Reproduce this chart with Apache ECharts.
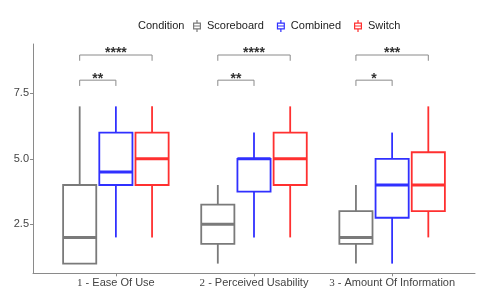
<!DOCTYPE html>
<html><head><meta charset="utf-8">
<script src="https://cdn.jsdelivr.net/npm/echarts@6/dist/echarts.min.js"></script>
<style>html,body{margin:0;padding:0;background:#fff}#c{width:480px;height:297px}</style>
</head><body><div id="c"></div>
<script>
// ---- data ----
const categories = ['1 - Ease Of Use', '2 - Perceived Usability', '3 - Amount Of Information'];
const conditions = ['Scoreboard', 'Combined', 'Switch'];
// [min, Q1, median, Q3, max] per category
const scoreboard = [[1, 1, 2, 4, 7], [1, 1.75, 2.5, 3.25, 4], [1, 1.75, 2, 3, 4]];
const combined   = [[2, 4, 4.5, 6, 7], [2, 3.75, 5, 5, 6], [1, 2.75, 4, 5, 6]];
const switchCond = [[2, 4, 5, 6, 7], [2, 4, 5, 6, 7], [2, 3, 4, 5.25, 7]];
// significance: Scoreboard vs Combined (near), Scoreboard vs Switch (far)
const sigNear = ['**', '**', '*'];
const sigFar  = ['****', '****', '***'];
const sigNearLevel = 8.0;
const sigFarLevel = 8.96;
const yTicks = [2.5, 5.0, 7.5];

// ---- style ----
const FONT = '"Liberation Sans", Arial, sans-serif';
const colors = ['#7a7a7a', '#3030ff', '#ff3030'];
const DODGE = 0.262, BOXW = 0.24, DROP = 0.22;
const ICON = 'path://M3.4,0h1.2v2.5h-1.2z M0,2.5h8v1.2h-8z M0,3.7h1.2v4.6h-1.2z M6.8,3.7h1.2v4.6h-1.2z M1.2,5.4h5.6v1.2h-5.6z M0,8.3h8v1.2h-8z M3.4,9.5h1.2v2.5h-1.2z';

function boxSeries(name, rows, g) {
  return {
    type: 'custom', name: name,
    itemStyle: { color: colors[g] },
    data: rows.map((r, i) => [i + 1].concat(r)),
    encode: { x: 0, y: [1, 2, 3, 4, 5] },
    renderItem: function (params, api) {
      const x = api.value(0) + (g - 1) * DODGE;
      const v = [1, 2, 3, 4, 5].map(k => api.value(k));
      const p = v.map(val => api.coord([x, val]));
      const hw = api.size([BOXW, 0])[0] / 2;
      const cx = p[0][0];
      const c = colors[g];
      return {
        type: 'group',
        children: [
          { type: 'line', shape: { x1: cx, y1: p[3][1], x2: cx, y2: p[4][1] }, style: { stroke: c, lineWidth: 1.8 } },
          { type: 'line', shape: { x1: cx, y1: p[0][1], x2: cx, y2: p[1][1] }, style: { stroke: c, lineWidth: 1.8 } },
          { type: 'rect', shape: { x: cx - hw, y: p[3][1], width: 2 * hw, height: p[1][1] - p[3][1] }, style: { fill: '#fff', stroke: c, lineWidth: 1.8 } },
          { type: 'line', shape: { x1: cx - hw, y1: p[2][1], x2: cx + hw, y2: p[2][1] }, style: { stroke: c, lineWidth: 3 } }
        ]
      };
    }
  };
}

const bracketData = [];
const bracketLabels = [];
categories.forEach((c, i) => {
  bracketData.push([i + 1, sigNearLevel, 0, 1]); bracketLabels.push(sigNear[i]);
  bracketData.push([i + 1, sigFarLevel, 0, 2]); bracketLabels.push(sigFar[i]);
});

const bracketSeries = {
  type: 'custom', name: 'sig', silent: true,
  data: bracketData,
  encode: { x: 0, y: 1 },
  renderItem: function (params, api) {
    const x = api.value(0), lv = api.value(1);
    const xa = x + (api.value(2) - 1) * DODGE, xb = x + (api.value(3) - 1) * DODGE;
    const pa = api.coord([xa, lv]), pb = api.coord([xb, lv]);
    const pd = api.coord([xa, lv - DROP]);
    return {
      type: 'group',
      children: [
        { type: 'polyline', shape: { points: [[pa[0], pd[1]], [pa[0], pa[1]], [pb[0], pb[1]], [pb[0], pd[1]]] },
          style: { stroke: '#8a8a8a', lineWidth: 1, fill: null } },
        { type: 'text', x: (pa[0] + pb[0]) / 2, y: pa[1] - 1.5,
          style: { text: bracketLabels[params.dataIndex], align: 'center', verticalAlign: 'middle',
                   fill: '#333', font: 'bold 14px ' + FONT } }
      ]
    };
  }
};

const chart = echarts.init(document.getElementById('c'), null, { renderer: 'canvas' });
chart.setOption({
  animation: false,
  backgroundColor: '#fff',
  title: { text: 'Condition', left: 138, top: 20, padding: 0,
    textStyle: { fontFamily: FONT, fontSize: 11, fontWeight: 'normal', color: '#222' } },
  legend: {
    left: 193, top: 20, padding: 0, itemWidth: 8, itemHeight: 12, itemGap: 13, selectedMode: false,
    textStyle: { fontFamily: FONT, fontSize: 11, color: '#222', padding: [0, 0, 0, 1] },
    data: conditions.map((n, i) => ({ name: n, icon: ICON, itemStyle: { color: colors[i], borderWidth: 0 } }))
  },
  grid: { left: 33, right: 5, top: 44, bottom: 23.7, containLabel: false, outerBoundsMode: 'none' },
  xAxis: {
    type: 'value', min: 0.4, max: 3.6,
    axisLine: { show: true, lineStyle: { color: '#8a8a8a', width: 1 } },
    axisTick: { show: true, customValues: [1, 2, 3], length: 3, lineStyle: { color: '#8a8a8a' } },
    axisLabel: {
      customValues: [1, 2, 3], margin: 4,
      formatter: function (v) {
        const s = categories[Math.round(v) - 1];
        return '{d|' + s.charAt(0) + '}' + s.slice(1);
      },
      fontFamily: FONT, fontSize: 11, color: '#444',
      rich: { d: { fontFamily: '"Liberation Serif", "Times New Roman", serif', fontSize: 11, color: '#444' } }
    },
    splitLine: { show: false }
  },
  yAxis: {
    type: 'value', min: 0.63, max: 9.38,
    name: 'Score', nameLocation: 'middle', nameGap: 22, nameRotate: 90,
    nameTextStyle: { fontFamily: FONT, fontSize: 11, color: '#222' },
    axisLine: { show: true, lineStyle: { color: '#8a8a8a', width: 1 } },
    axisTick: { show: true, customValues: yTicks, length: 3, lineStyle: { color: '#8a8a8a' } },
    axisLabel: { customValues: yTicks, margin: 4, formatter: v => v.toFixed(1),
      fontFamily: FONT, fontSize: 11, color: '#444' },
    splitLine: { show: false }
  },
  series: [
    boxSeries(conditions[0], scoreboard, 0),
    boxSeries(conditions[1], combined, 1),
    boxSeries(conditions[2], switchCond, 2),
    bracketSeries
  ]
});
</script>
</body></html>
